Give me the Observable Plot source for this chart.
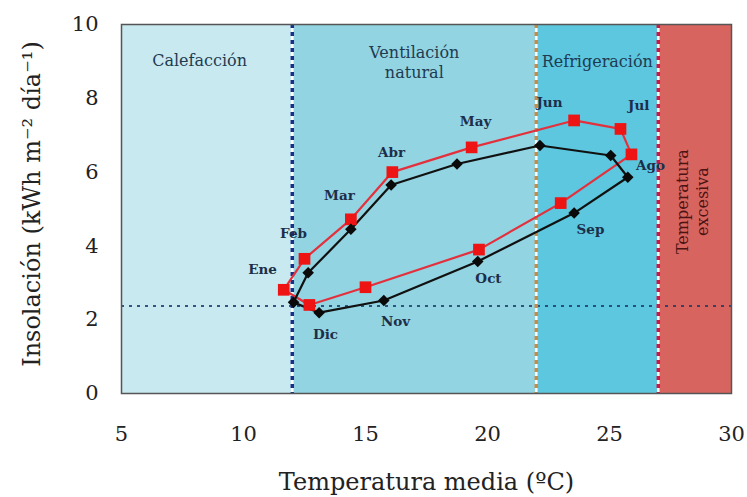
<!DOCTYPE html>
<html>
<head>
<meta charset="utf-8">
<script src="https://cdn.jsdelivr.net/npm/d3@7"></script>
<script src="https://cdn.jsdelivr.net/npm/@observablehq/plot@0.6"></script>
<style>
  html, body { margin: 0; padding: 0; background: #fff; }
</style>
</head>
<body>
<div id="chart"></div>
<script>
// ---- data ----
const months = ["Ene","Feb","Mar","Abr","May","Jun","Jul","Ago","Sep","Oct","Nov","Dic"];
const blackTemp = [12.05, 12.65, 14.4, 16.05, 18.75, 22.15, 25.05, 25.75, 23.55, 19.6, 15.75, 13.1];
const blackIns  = [2.47, 3.27, 4.45, 5.65, 6.22, 6.72, 6.45, 5.86, 4.89, 3.58, 2.52, 2.19];
const redTemp   = [11.65, 12.5, 14.4, 16.1, 19.35, 23.55, 25.45, 25.9, 23.0, 19.65, 15.0, 12.7];
const redIns    = [2.81, 3.65, 4.72, 6.0, 6.67, 7.4, 7.17, 6.48, 5.16, 3.9, 2.88, 2.4];
// month label anchors (temperature, insolation)
const labelTemp = [10.78, 12.05, 13.93, 16.07, 19.51, 22.54, 26.2, 26.68, 24.22, 20.04, 16.23, 13.36];
const labelIns  = [3.36, 4.34, 5.37, 6.53, 7.37, 7.89, 7.8, 6.18, 4.44, 3.12, 1.95, 1.6];

// comfort zones
const zoneStart = [5, 12, 22, 27];
const zoneEnd   = [12, 22, 27, 30];
const zoneColor = ["#c8e9ef", "#92d4e1", "#5cc7de", "#d8645f"];
const boundaryX = [12, 22, 27];
const boundaryColor = ["#1c2f86", "#c98a48", "#c8184a"];
const thresholdIns = [2.37];

const zoneLabels = ["Calefacción", "Ventilación\nnatural", "Refrigeración"];
const zoneLabelTemp = [8.2, 17.0, 24.5];
const zoneLabelIns  = [9.05, 9.0, 9.03];
const excessLabel = ["Temperatura\nexcesiva"];
const excessTemp = [28.35];
const excessIns = [5.2];

const xTicks = [5, 10, 15, 20, 25, 30];
const yTicks = [0, 2, 4, 6, 8, 10];
const xLabel = "Temperatura media (ºC)";
const yLabel = "Insolación (kWh m⁻² día⁻¹)";

// ---- derived tables ----
const zones = zoneStart.map((s, i) => ({x1: s, x2: zoneEnd[i], color: zoneColor[i]}));
const bounds = boundaryX.map((x, i) => ({x, color: boundaryColor[i]}));
const loop = (t, v) => [...months, months[0]].map((m, i) => ({month: m, t: t[i % 12], v: v[i % 12]}));
const blackPts = loop(blackTemp, blackIns);
const redPts = loop(redTemp, redIns);
const blackMarks = months.map((m, i) => ({month: m, t: blackTemp[i], v: blackIns[i]}));
const redMarks = months.map((m, i) => ({month: m, t: redTemp[i], v: redIns[i]}));
const monthLabels = months.map((m, i) => ({month: m, t: labelTemp[i], v: labelIns[i]}));
const zoneText = zoneLabels.map((s, i) => ({s, t: zoneLabelTemp[i], v: zoneLabelIns[i]}));
const excessText = excessLabel.map((s, i) => ({s, t: excessTemp[i], v: excessIns[i]}));

const chart = Plot.plot({
  width: 747,
  height: 497,
  marginLeft: 121,
  marginRight: 16,
  marginTop: 24,
  marginBottom: 104,
  style: {fontFamily: "DejaVu Serif", fontSize: "21px", background: "#fff", color: "#222"},
  x: {domain: [5, 30]},
  y: {domain: [0, 10]},
  marks: [
    Plot.rect(zones, {x1: "x1", x2: "x2", y1: 0, y2: 10, fill: "color"}),
    Plot.ruleY(thresholdIns, {stroke: "#1d3b6b", strokeWidth: 2, strokeDasharray: "3,5", strokeOpacity: 0.85}),
    Plot.ruleX(bounds, {x: "x", stroke: "#fff", strokeWidth: 2.5}),
    Plot.ruleX(bounds, {x: "x", stroke: "color", strokeWidth: 3.5, strokeDasharray: "4,4"}),
    Plot.line(redPts, {x: "t", y: "v", stroke: "#e3303c", strokeWidth: 2.2}),
    Plot.line(blackPts, {x: "t", y: "v", stroke: "#111", strokeWidth: 2.2}),
    Plot.dot(redMarks, {x: "t", y: "v", symbol: "square", r: 6.6, fill: "#ee1414", stroke: "none"}),
    Plot.dot(blackMarks, {x: "t", y: "v", symbol: "diamond2", r: 5.2, fill: "#0a0a0a", stroke: "none"}),
    Plot.text(monthLabels, {x: "t", y: "v", text: "month", fontSize: 13.5, fontWeight: "bold", fill: "#1c2e4a"}),
    Plot.text(zoneText, {x: "t", y: "v", text: "s", fontSize: 16, fill: "#1f3b52", lineHeight: 1.25}),
    Plot.text(excessText, {x: "t", y: "v", text: "s", fontSize: 16, fill: "#4a1414", rotate: -90, lineHeight: 1.25}),
    Plot.frame({stroke: "#555", strokeWidth: 1.5}),
    Plot.axisX({ticks: xTicks, tickSize: 0, tickPadding: 33, label: null, fontSize: 21, fill: "#222"}),
    Plot.axisY({ticks: yTicks, tickSize: 0, tickPadding: 23, label: null, fontSize: 21, fill: "#222"}),
    Plot.text([xLabel], {frameAnchor: "bottom", dy: 96, fontSize: 24, fill: "#222"}),
    Plot.text([yLabel], {frameAnchor: "left", textAnchor: "middle", lineAnchor: "middle", rotate: -90, dx: -89, dy: -5, fontSize: 24, fill: "#222"})
  ]
});
document.getElementById("chart").appendChild(chart);
</script>
</body>
</html>
